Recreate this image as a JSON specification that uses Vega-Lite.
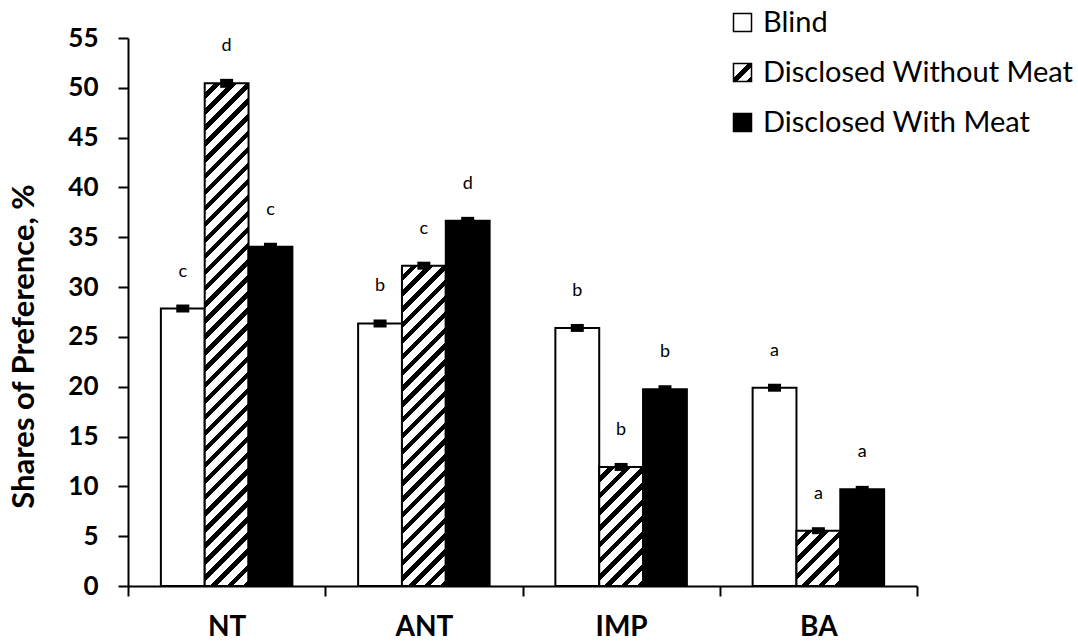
{
  "$schema": "https://vega.github.io/schema/vega-lite/v6.json",
  "width": 789,
  "height": 548,
  "autosize": {"type": "none"},
  "padding": {"left": 128, "top": 38, "right": 161, "bottom": 55},
  "background": "#ffffff",
  "config": {"view": {"stroke": null}, "font": "Lato"},
  "params": [
    {"name": "hatchLegend", "value": {"gradient": "linear", "x1": 0, "y1": 0, "x2": 1, "y2": 1, "stops": [
      {"offset": 0, "color": "#ffffff"}, {"offset": 0.4, "color": "#ffffff"}, {"offset": 0.4, "color": "#000000"}, {"offset": 0.6, "color": "#000000"},
      {"offset": 0.6, "color": "#ffffff"}, {"offset": 0.85, "color": "#ffffff"}, {"offset": 0.85, "color": "#000000"}, {"offset": 1, "color": "#000000"}
    ]}}
  ],
  "data": {
    "values": [
      {"cat": "NT", "series": "Blind", "value": 27.85, "lo": 27.45, "hi": 28.25, "letter": "c"},
      {"cat": "NT", "series": "Disclosed Without Meat", "value": 50.45, "lo": 50.0, "hi": 50.9, "letter": "d"},
      {"cat": "NT", "series": "Disclosed With Meat", "value": 34.05, "lo": 33.65, "hi": 34.45, "letter": "c"},
      {"cat": "ANT", "series": "Blind", "value": 26.35, "lo": 25.95, "hi": 26.75, "letter": "b"},
      {"cat": "ANT", "series": "Disclosed Without Meat", "value": 32.15, "lo": 31.75, "hi": 32.55, "letter": "c"},
      {"cat": "ANT", "series": "Disclosed With Meat", "value": 36.65, "lo": 36.25, "hi": 37.05, "letter": "d"},
      {"cat": "IMP", "series": "Blind", "value": 25.9, "lo": 25.5, "hi": 26.3, "letter": "b"},
      {"cat": "IMP", "series": "Disclosed Without Meat", "value": 11.95, "lo": 11.55, "hi": 12.35, "letter": "b"},
      {"cat": "IMP", "series": "Disclosed With Meat", "value": 19.75, "lo": 19.35, "hi": 20.15, "letter": "b"},
      {"cat": "BA", "series": "Blind", "value": 19.9, "lo": 19.5, "hi": 20.3, "letter": "a"},
      {"cat": "BA", "series": "Disclosed Without Meat", "value": 5.55, "lo": 5.2, "hi": 5.9, "letter": "a"},
      {"cat": "BA", "series": "Disclosed With Meat", "value": 9.7, "lo": 9.35, "hi": 10.05, "letter": "a"}
    ]
  },
  "encoding": {
    "x": {
      "field": "cat", "type": "nominal", "sort": ["NT", "ANT", "IMP", "BA"],
      "scale": {"paddingInner": 0, "paddingOuter": 0},
      "axis": {
        "title": null, "labelAngle": 0, "labelFont": "Lato", "labelFontWeight": "bold", "labelFontSize": 28,
        "labelColor": "#000000", "labelPadding": 17, "tickSize": 10, "tickWidth": 2, "tickColor": "#000000",
        "domainColor": "#000000", "domainWidth": 2, "tickBand": "extent", "grid": false
      }
    },
    "xOffset": {
      "field": "series", "type": "nominal", "sort": ["Blind", "Disclosed Without Meat", "Disclosed With Meat"],
      "scale": {"paddingInner": 0, "paddingOuter": 0.75}
    },
    "y": {
      "field": "value", "type": "quantitative",
      "scale": {"domain": [0, 55], "nice": false},
      "axis": {
        "values": [0, 5, 10, 15, 20, 25, 30, 35, 40, 45, 50, 55],
        "title": "Shares of Preference, %", "titleFont": "Lato", "titleFontSize": 31, "titleFontWeight": "bold",
        "titleColor": "#000000", "titleX": -104, "titleY": 308, "titleAngle": -90, "titleAlign": "center", "titleBaseline": "middle",
        "labelFont": "Lato", "labelFontSize": 26, "labelFontWeight": "bold", "labelColor": "#000000", "labelPadding": 20,
        "tickSize": 10, "tickWidth": 2, "tickColor": "#000000", "domainColor": "#000000", "domainWidth": 2, "grid": false
      }
    }
  },
  "layer": [
    {
      "mark": {"type": "bar", "stroke": "#000000", "strokeWidth": 2},
      "encoding": {
        "fill": {
          "field": "series", "type": "nominal",
          "scale": {"domain": ["Blind", "Disclosed Without Meat", "Disclosed With Meat"], "range": ["#ffffff", {"expr": "hatchLegend"}, "#000000"]},
          "legend": {
            "title": null, "orient": "none", "legendX": 600, "legendY": -30,
            "symbolType": "square", "symbolSize": 324, "symbolStrokeWidth": 1.5, "symbolStrokeColor": "#000000",
            "labelFont": "Lato", "labelFontSize": 29, "labelColor": "#000000", "labelOffset": 6, "rowPadding": 20, "labelLimit": 500, "padding": 0
          },
          "condition": [
            {"test": "datum.series === 'Disclosed Without Meat' && datum.cat === 'NT'", "value": {"gradient": "linear", "x1": 0, "y1": 0, "x2": 0.09408, "y2": 1.07899, "stops": [
              {"offset": 0, "color": "#ffffff"}, {"offset": 0.01765, "color": "#ffffff"}, {"offset": 0.01765, "color": "#000000"}, {"offset": 0.02941, "color": "#000000"},
              {"offset": 0.02941, "color": "#ffffff"}, {"offset": 0.04706, "color": "#ffffff"}, {"offset": 0.04706, "color": "#000000"}, {"offset": 0.05882, "color": "#000000"},
              {"offset": 0.05882, "color": "#ffffff"}, {"offset": 0.07647, "color": "#ffffff"}, {"offset": 0.07647, "color": "#000000"}, {"offset": 0.08824, "color": "#000000"},
              {"offset": 0.08824, "color": "#ffffff"}, {"offset": 0.10588, "color": "#ffffff"}, {"offset": 0.10588, "color": "#000000"}, {"offset": 0.11765, "color": "#000000"},
              {"offset": 0.11765, "color": "#ffffff"}, {"offset": 0.13529, "color": "#ffffff"}, {"offset": 0.13529, "color": "#000000"}, {"offset": 0.14706, "color": "#000000"},
              {"offset": 0.14706, "color": "#ffffff"}, {"offset": 0.16471, "color": "#ffffff"}, {"offset": 0.16471, "color": "#000000"}, {"offset": 0.17647, "color": "#000000"},
              {"offset": 0.17647, "color": "#ffffff"}, {"offset": 0.19412, "color": "#ffffff"}, {"offset": 0.19412, "color": "#000000"}, {"offset": 0.20588, "color": "#000000"},
              {"offset": 0.20588, "color": "#ffffff"}, {"offset": 0.22353, "color": "#ffffff"}, {"offset": 0.22353, "color": "#000000"}, {"offset": 0.23529, "color": "#000000"},
              {"offset": 0.23529, "color": "#ffffff"}, {"offset": 0.25294, "color": "#ffffff"}, {"offset": 0.25294, "color": "#000000"}, {"offset": 0.26471, "color": "#000000"},
              {"offset": 0.26471, "color": "#ffffff"}, {"offset": 0.28235, "color": "#ffffff"}, {"offset": 0.28235, "color": "#000000"}, {"offset": 0.29412, "color": "#000000"},
              {"offset": 0.29412, "color": "#ffffff"}, {"offset": 0.31176, "color": "#ffffff"}, {"offset": 0.31176, "color": "#000000"}, {"offset": 0.32353, "color": "#000000"},
              {"offset": 0.32353, "color": "#ffffff"}, {"offset": 0.34118, "color": "#ffffff"}, {"offset": 0.34118, "color": "#000000"}, {"offset": 0.35294, "color": "#000000"},
              {"offset": 0.35294, "color": "#ffffff"}, {"offset": 0.37059, "color": "#ffffff"}, {"offset": 0.37059, "color": "#000000"}, {"offset": 0.38235, "color": "#000000"},
              {"offset": 0.38235, "color": "#ffffff"}, {"offset": 0.4, "color": "#ffffff"}, {"offset": 0.4, "color": "#000000"}, {"offset": 0.41176, "color": "#000000"},
              {"offset": 0.41176, "color": "#ffffff"}, {"offset": 0.42941, "color": "#ffffff"}, {"offset": 0.42941, "color": "#000000"}, {"offset": 0.44118, "color": "#000000"},
              {"offset": 0.44118, "color": "#ffffff"}, {"offset": 0.45882, "color": "#ffffff"}, {"offset": 0.45882, "color": "#000000"}, {"offset": 0.47059, "color": "#000000"},
              {"offset": 0.47059, "color": "#ffffff"}, {"offset": 0.48824, "color": "#ffffff"}, {"offset": 0.48824, "color": "#000000"}, {"offset": 0.5, "color": "#000000"},
              {"offset": 0.5, "color": "#ffffff"}, {"offset": 0.51765, "color": "#ffffff"}, {"offset": 0.51765, "color": "#000000"}, {"offset": 0.52941, "color": "#000000"},
              {"offset": 0.52941, "color": "#ffffff"}, {"offset": 0.54706, "color": "#ffffff"}, {"offset": 0.54706, "color": "#000000"}, {"offset": 0.55882, "color": "#000000"},
              {"offset": 0.55882, "color": "#ffffff"}, {"offset": 0.57647, "color": "#ffffff"}, {"offset": 0.57647, "color": "#000000"}, {"offset": 0.58824, "color": "#000000"},
              {"offset": 0.58824, "color": "#ffffff"}, {"offset": 0.60588, "color": "#ffffff"}, {"offset": 0.60588, "color": "#000000"}, {"offset": 0.61765, "color": "#000000"},
              {"offset": 0.61765, "color": "#ffffff"}, {"offset": 0.63529, "color": "#ffffff"}, {"offset": 0.63529, "color": "#000000"}, {"offset": 0.64706, "color": "#000000"},
              {"offset": 0.64706, "color": "#ffffff"}, {"offset": 0.66471, "color": "#ffffff"}, {"offset": 0.66471, "color": "#000000"}, {"offset": 0.67647, "color": "#000000"},
              {"offset": 0.67647, "color": "#ffffff"}, {"offset": 0.69412, "color": "#ffffff"}, {"offset": 0.69412, "color": "#000000"}, {"offset": 0.70588, "color": "#000000"},
              {"offset": 0.70588, "color": "#ffffff"}, {"offset": 0.72353, "color": "#ffffff"}, {"offset": 0.72353, "color": "#000000"}, {"offset": 0.73529, "color": "#000000"},
              {"offset": 0.73529, "color": "#ffffff"}, {"offset": 0.75294, "color": "#ffffff"}, {"offset": 0.75294, "color": "#000000"}, {"offset": 0.76471, "color": "#000000"},
              {"offset": 0.76471, "color": "#ffffff"}, {"offset": 0.78235, "color": "#ffffff"}, {"offset": 0.78235, "color": "#000000"}, {"offset": 0.79412, "color": "#000000"},
              {"offset": 0.79412, "color": "#ffffff"}, {"offset": 0.81176, "color": "#ffffff"}, {"offset": 0.81176, "color": "#000000"}, {"offset": 0.82353, "color": "#000000"},
              {"offset": 0.82353, "color": "#ffffff"}, {"offset": 0.84118, "color": "#ffffff"}, {"offset": 0.84118, "color": "#000000"}, {"offset": 0.85294, "color": "#000000"},
              {"offset": 0.85294, "color": "#ffffff"}, {"offset": 0.87059, "color": "#ffffff"}, {"offset": 0.87059, "color": "#000000"}, {"offset": 0.88235, "color": "#000000"},
              {"offset": 0.88235, "color": "#ffffff"}, {"offset": 0.9, "color": "#ffffff"}, {"offset": 0.9, "color": "#000000"}, {"offset": 0.91176, "color": "#000000"},
              {"offset": 0.91176, "color": "#ffffff"}, {"offset": 0.92941, "color": "#ffffff"}, {"offset": 0.92941, "color": "#000000"}, {"offset": 0.94118, "color": "#000000"},
              {"offset": 0.94118, "color": "#ffffff"}, {"offset": 0.95882, "color": "#ffffff"}, {"offset": 0.95882, "color": "#000000"}, {"offset": 0.97059, "color": "#000000"},
              {"offset": 0.97059, "color": "#ffffff"}, {"offset": 0.98824, "color": "#ffffff"}, {"offset": 0.98824, "color": "#000000"}, {"offset": 1, "color": "#000000"}
            ]}},
            {"test": "datum.series === 'Disclosed Without Meat' && datum.cat === 'ANT'", "value": {"gradient": "linear", "x1": 0, "y1": 0, "x2": 0.15271, "y2": 1.11593, "stops": [
              {"offset": 0, "color": "#ffffff"}, {"offset": 0.02609, "color": "#ffffff"}, {"offset": 0.02609, "color": "#000000"}, {"offset": 0.04348, "color": "#000000"},
              {"offset": 0.04348, "color": "#ffffff"}, {"offset": 0.06957, "color": "#ffffff"}, {"offset": 0.06957, "color": "#000000"}, {"offset": 0.08696, "color": "#000000"},
              {"offset": 0.08696, "color": "#ffffff"}, {"offset": 0.11304, "color": "#ffffff"}, {"offset": 0.11304, "color": "#000000"}, {"offset": 0.13043, "color": "#000000"},
              {"offset": 0.13043, "color": "#ffffff"}, {"offset": 0.15652, "color": "#ffffff"}, {"offset": 0.15652, "color": "#000000"}, {"offset": 0.17391, "color": "#000000"},
              {"offset": 0.17391, "color": "#ffffff"}, {"offset": 0.2, "color": "#ffffff"}, {"offset": 0.2, "color": "#000000"}, {"offset": 0.21739, "color": "#000000"},
              {"offset": 0.21739, "color": "#ffffff"}, {"offset": 0.24348, "color": "#ffffff"}, {"offset": 0.24348, "color": "#000000"}, {"offset": 0.26087, "color": "#000000"},
              {"offset": 0.26087, "color": "#ffffff"}, {"offset": 0.28696, "color": "#ffffff"}, {"offset": 0.28696, "color": "#000000"}, {"offset": 0.30435, "color": "#000000"},
              {"offset": 0.30435, "color": "#ffffff"}, {"offset": 0.33043, "color": "#ffffff"}, {"offset": 0.33043, "color": "#000000"}, {"offset": 0.34783, "color": "#000000"},
              {"offset": 0.34783, "color": "#ffffff"}, {"offset": 0.37391, "color": "#ffffff"}, {"offset": 0.37391, "color": "#000000"}, {"offset": 0.3913, "color": "#000000"},
              {"offset": 0.3913, "color": "#ffffff"}, {"offset": 0.41739, "color": "#ffffff"}, {"offset": 0.41739, "color": "#000000"}, {"offset": 0.43478, "color": "#000000"},
              {"offset": 0.43478, "color": "#ffffff"}, {"offset": 0.46087, "color": "#ffffff"}, {"offset": 0.46087, "color": "#000000"}, {"offset": 0.47826, "color": "#000000"},
              {"offset": 0.47826, "color": "#ffffff"}, {"offset": 0.50435, "color": "#ffffff"}, {"offset": 0.50435, "color": "#000000"}, {"offset": 0.52174, "color": "#000000"},
              {"offset": 0.52174, "color": "#ffffff"}, {"offset": 0.54783, "color": "#ffffff"}, {"offset": 0.54783, "color": "#000000"}, {"offset": 0.56522, "color": "#000000"},
              {"offset": 0.56522, "color": "#ffffff"}, {"offset": 0.5913, "color": "#ffffff"}, {"offset": 0.5913, "color": "#000000"}, {"offset": 0.6087, "color": "#000000"},
              {"offset": 0.6087, "color": "#ffffff"}, {"offset": 0.63478, "color": "#ffffff"}, {"offset": 0.63478, "color": "#000000"}, {"offset": 0.65217, "color": "#000000"},
              {"offset": 0.65217, "color": "#ffffff"}, {"offset": 0.67826, "color": "#ffffff"}, {"offset": 0.67826, "color": "#000000"}, {"offset": 0.69565, "color": "#000000"},
              {"offset": 0.69565, "color": "#ffffff"}, {"offset": 0.72174, "color": "#ffffff"}, {"offset": 0.72174, "color": "#000000"}, {"offset": 0.73913, "color": "#000000"},
              {"offset": 0.73913, "color": "#ffffff"}, {"offset": 0.76522, "color": "#ffffff"}, {"offset": 0.76522, "color": "#000000"}, {"offset": 0.78261, "color": "#000000"},
              {"offset": 0.78261, "color": "#ffffff"}, {"offset": 0.8087, "color": "#ffffff"}, {"offset": 0.8087, "color": "#000000"}, {"offset": 0.82609, "color": "#000000"},
              {"offset": 0.82609, "color": "#ffffff"}, {"offset": 0.85217, "color": "#ffffff"}, {"offset": 0.85217, "color": "#000000"}, {"offset": 0.86957, "color": "#000000"},
              {"offset": 0.86957, "color": "#ffffff"}, {"offset": 0.89565, "color": "#ffffff"}, {"offset": 0.89565, "color": "#000000"}, {"offset": 0.91304, "color": "#000000"},
              {"offset": 0.91304, "color": "#ffffff"}, {"offset": 0.93913, "color": "#ffffff"}, {"offset": 0.93913, "color": "#000000"}, {"offset": 0.95652, "color": "#000000"},
              {"offset": 0.95652, "color": "#ffffff"}, {"offset": 0.98261, "color": "#ffffff"}, {"offset": 0.98261, "color": "#000000"}, {"offset": 1, "color": "#000000"}
            ]}},
            {"test": "datum.series === 'Disclosed Without Meat' && datum.cat === 'IMP'", "value": {"gradient": "linear", "x1": 0, "y1": 0, "x2": 0.44339, "y2": 1.20483, "stops": [
              {"offset": 0, "color": "#ffffff"}, {"offset": 0.06, "color": "#ffffff"}, {"offset": 0.06, "color": "#000000"}, {"offset": 0.1, "color": "#000000"},
              {"offset": 0.1, "color": "#ffffff"}, {"offset": 0.16, "color": "#ffffff"}, {"offset": 0.16, "color": "#000000"}, {"offset": 0.2, "color": "#000000"},
              {"offset": 0.2, "color": "#ffffff"}, {"offset": 0.26, "color": "#ffffff"}, {"offset": 0.26, "color": "#000000"}, {"offset": 0.3, "color": "#000000"},
              {"offset": 0.3, "color": "#ffffff"}, {"offset": 0.36, "color": "#ffffff"}, {"offset": 0.36, "color": "#000000"}, {"offset": 0.4, "color": "#000000"},
              {"offset": 0.4, "color": "#ffffff"}, {"offset": 0.46, "color": "#ffffff"}, {"offset": 0.46, "color": "#000000"}, {"offset": 0.5, "color": "#000000"},
              {"offset": 0.5, "color": "#ffffff"}, {"offset": 0.56, "color": "#ffffff"}, {"offset": 0.56, "color": "#000000"}, {"offset": 0.6, "color": "#000000"},
              {"offset": 0.6, "color": "#ffffff"}, {"offset": 0.66, "color": "#ffffff"}, {"offset": 0.66, "color": "#000000"}, {"offset": 0.7, "color": "#000000"},
              {"offset": 0.7, "color": "#ffffff"}, {"offset": 0.76, "color": "#ffffff"}, {"offset": 0.76, "color": "#000000"}, {"offset": 0.8, "color": "#000000"},
              {"offset": 0.8, "color": "#ffffff"}, {"offset": 0.86, "color": "#ffffff"}, {"offset": 0.86, "color": "#000000"}, {"offset": 0.9, "color": "#000000"},
              {"offset": 0.9, "color": "#ffffff"}, {"offset": 0.96, "color": "#ffffff"}, {"offset": 0.96, "color": "#000000"}, {"offset": 1, "color": "#000000"}
            ]}},
            {"test": "datum.series === 'Disclosed Without Meat' && datum.cat === 'BA'", "value": {"gradient": "linear", "x1": 0, "y1": 0, "x2": 0.8726, "y2": 1.10096, "stops": [
              {"offset": 0, "color": "#ffffff"}, {"offset": 0.1, "color": "#ffffff"}, {"offset": 0.1, "color": "#000000"}, {"offset": 0.16667, "color": "#000000"},
              {"offset": 0.16667, "color": "#ffffff"}, {"offset": 0.26667, "color": "#ffffff"}, {"offset": 0.26667, "color": "#000000"}, {"offset": 0.33333, "color": "#000000"},
              {"offset": 0.33333, "color": "#ffffff"}, {"offset": 0.43333, "color": "#ffffff"}, {"offset": 0.43333, "color": "#000000"}, {"offset": 0.5, "color": "#000000"},
              {"offset": 0.5, "color": "#ffffff"}, {"offset": 0.6, "color": "#ffffff"}, {"offset": 0.6, "color": "#000000"}, {"offset": 0.66667, "color": "#000000"},
              {"offset": 0.66667, "color": "#ffffff"}, {"offset": 0.76667, "color": "#ffffff"}, {"offset": 0.76667, "color": "#000000"}, {"offset": 0.83333, "color": "#000000"},
              {"offset": 0.83333, "color": "#ffffff"}, {"offset": 0.93333, "color": "#ffffff"}, {"offset": 0.93333, "color": "#000000"}, {"offset": 1, "color": "#000000"}
            ]}}
          ]
        }
      }
    },
    {
      "mark": {"type": "bar", "width": 13, "fill": "#000000", "stroke": null},
      "encoding": {
        "y": {"field": "lo", "type": "quantitative"},
        "y2": {"field": "hi"}
      }
    },
    {
      "mark": {"type": "text", "dy": -37, "baseline": "middle", "align": "center", "font": "Lato", "fontSize": 18, "color": "#000000"},
      "encoding": {
        "text": {"field": "letter", "type": "nominal"}
      }
    }
  ]
}
